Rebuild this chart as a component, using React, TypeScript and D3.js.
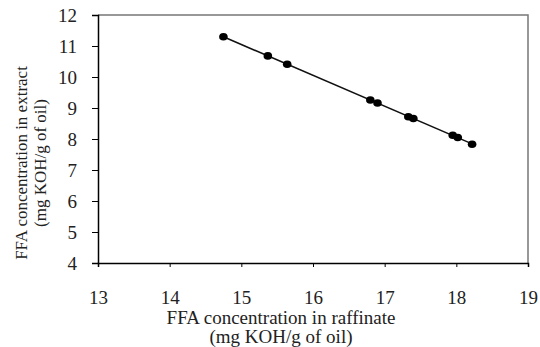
import React, { useRef, useEffect } from 'react';
import * as d3 from 'd3';

// FFA in raffinate vs FFA in extract (mg KOH/g of oil)
const raffinate = [14.75, 15.37, 15.64, 16.80, 16.90, 17.33, 17.40, 17.95, 18.02, 18.22];
const extract = [11.30, 10.68, 10.41, 9.26, 9.16, 8.72, 8.66, 8.12, 8.05, 7.83];
const xTicks = [13, 14, 15, 16, 17, 18, 19];
const yTicks = [4, 5, 6, 7, 8, 9, 10, 11, 12];
const xLabel = ['FFA concentration in raffinate', '(mg KOH/g of oil)'];
const yLabel = ['FFA concentration in extract', '(mg KOH/g of oil)'];

const App = () => {
    const ref = useRef<SVGSVGElement>(null);

    useEffect(() => {
        const svg = d3.select(ref.current);
        svg.selectAll('*').remove();

        const width = 540;
        const height = 347;
        const margin = { top: 15, right: 12, bottom: 84, left: 98 };
        const font = '"Liberation Serif", "Times New Roman", serif';

        const x = d3.scaleLinear().domain([13, 19]).range([margin.left, width - margin.right]);
        const y = d3.scaleLinear().domain([4, 12]).range([height - margin.bottom, margin.top]);

        // frame: grey top/right
        svg.append('path')
            .attr('d', `M${x(13)},${y(12)}H${x(19)}V${y(4)}`)
            .attr('fill', 'none')
            .attr('stroke', '#777')
            .attr('stroke-width', 1.5);

        const xAxis = svg.append('g')
            .attr('transform', `translate(0,${y(4)})`)
            .call(d3.axisBottom(x).tickValues(xTicks).tickSize(4).tickPadding(24).tickFormat(d3.format('d')));
        const yAxis = svg.append('g')
            .attr('transform', `translate(${x(13)},0)`)
            .call(d3.axisLeft(y).tickValues(yTicks).tickSize(6).tickPadding(15).tickFormat(d3.format('d')));

        [xAxis, yAxis].forEach(g => {
            g.select('.domain').attr('stroke', '#000').attr('stroke-width', 1.5);
            g.selectAll('.tick line').attr('stroke', '#000').attr('stroke-width', 1);
            g.selectAll('.tick text')
                .attr('fill', '#222')
                .style('font-family', font)
                .style('font-size', '19px');
        });

        // fitted line
        const xMean = d3.mean(raffinate)!;
        const yMean = d3.mean(extract)!;
        const slope = d3.sum(raffinate, (v, i) => (v - xMean) * (extract[i] - yMean))
            / d3.sum(raffinate, v => (v - xMean) ** 2);
        const intercept = yMean - slope * xMean;
        const [xMin, xMax] = d3.extent(raffinate) as [number, number];

        svg.append('line')
            .attr('x1', x(xMin))
            .attr('y1', y(intercept + slope * xMin))
            .attr('x2', x(xMax))
            .attr('y2', y(intercept + slope * xMax))
            .attr('stroke', '#111')
            .attr('stroke-width', 1.6);

        svg.selectAll('ellipse.pt')
            .data(raffinate)
            .enter().append('ellipse')
            .attr('class', 'pt')
            .attr('cx', d => x(d))
            .attr('cy', (d, i) => y(extract[i]))
            .attr('rx', 4.3)
            .attr('ry', 3.8)
            .attr('fill', '#000');

        const xl = svg.append('text')
            .attr('text-anchor', 'middle')
            .attr('fill', '#222')
            .style('font-family', font)
            .style('font-size', '19px');
        xLabel.forEach((t, i) => {
            xl.append('tspan').attr('x', 281).attr('y', 324 + i * 19).text(t);
        });

        const yl = svg.append('text')
            .attr('text-anchor', 'middle')
            .attr('transform', 'rotate(-90)')
            .attr('fill', '#222')
            .style('font-family', font)
            .style('font-size', '17px');
        yLabel.forEach((t, i) => {
            yl.append('tspan').attr('x', -163).attr('y', 27 + i * 19).text(t);
        });
    }, []);

    return (
        <svg ref={ref} width={540} height={347}
            style={{ position: 'absolute', left: 0, top: 0, background: '#fff' }}></svg>
    );
};

export default App;
